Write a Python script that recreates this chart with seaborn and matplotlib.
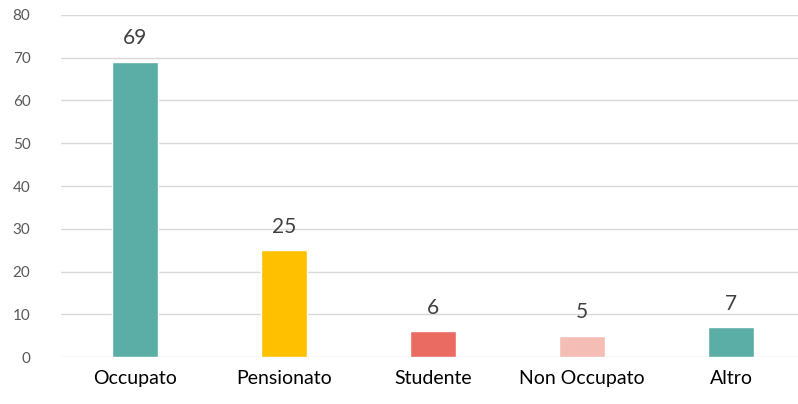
import pandas as pd
import seaborn as sns
import matplotlib.pyplot as plt

categories = ["Occupato", "Pensionato", "Studente", "Non Occupato", "Altro"]
values = [69, 25, 6, 5, 7]
colors = ["#5BAEA5", "#FFC000", "#EA6B61", "#F4BDB5", "#5BAEA5"]

df = pd.DataFrame({"cat": categories, "val": values})

sns.set_style("white")
plt.rcParams['font.family'] = ['Lato', 'DejaVu Sans']

fig = plt.figure(figsize=(7.98, 4.04), dpi=100)
ax = fig.add_axes([0.0764, 0.116, 0.9236, 0.847])

sns.barplot(data=df, x="cat", y="val", hue="cat", palette=colors,
            saturation=1, width=0.31, legend=False, ax=ax, zorder=3)

for i, v in enumerate(values):
    ax.text(i, v + 3.2, str(v), ha="center", va="bottom",
            fontsize=15, color="#404040")

ax.set_xlim(-0.5, 4.45)
ax.set_ylim(0, 80)
ax.set_yticks(range(0, 81, 10))
ax.grid(axis="y", color="#D9D9D9", linewidth=1, zorder=0)
ax.set_xlabel("")
ax.set_ylabel("")
sns.despine(ax=ax, left=True, bottom=True)
ax.tick_params(axis="y", labelsize=11, labelcolor="#595959", length=0, pad=22)
ax.tick_params(axis="x", labelsize=14, labelcolor="#000000", length=0, pad=9)
for lbl in ax.get_yticklabels():
    lbl.set_horizontalalignment("right")

fig.savefig("out.png", dpi=100)
